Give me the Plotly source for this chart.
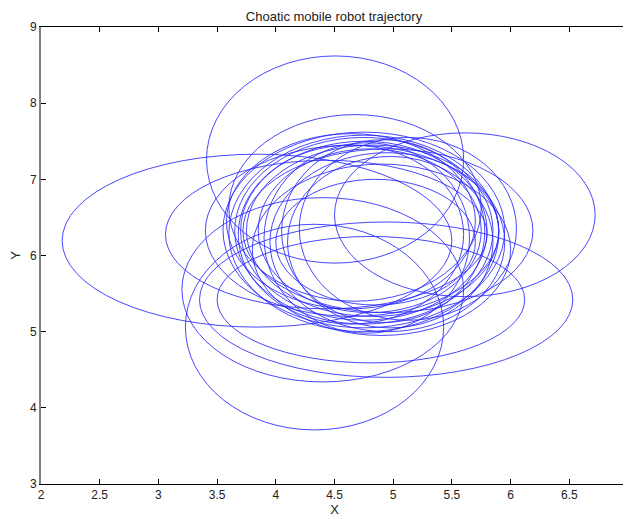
import plotly.graph_objects as go

title = "Choatic mobile robot trajectory"
x_ticks = [2, 2.5, 3, 3.5, 4, 4.5, 5, 5.5, 6, 6.5, 7]
y_ticks = [3, 4, 5, 6, 7, 8, 9]

# Loops of the trajectory (data units)
loop_x0 = [3.55, 3.60, 3.65, 3.70, 3.75, 3.85, 3.95, 3.58, 4.10, 3.80, 4.00, 3.68, 4.20, 3.90,
           3.41, 2.18, 4.50, 3.35, 3.50, 3.23, 3.20, 3.06, 3.40, 3.60, 3.72, 4.05]
loop_x1 = [5.95, 5.90, 5.85, 5.80, 5.90, 5.75, 5.95, 5.70, 5.85, 6.00, 5.70, 5.60, 6.05, 5.65,
           5.60, 5.50, 6.72, 6.53, 6.12, 5.43, 5.60, 5.80, 5.90, 5.75, 6.19, 5.78]
loop_y0 = [5.05, 5.00, 5.10, 5.15, 5.20, 5.25, 5.00, 5.30, 5.05, 4.95, 5.35, 5.10, 5.15, 4.98,
           5.90, 5.06, 5.46, 4.40, 4.59, 3.71, 4.34, 5.30, 5.20, 5.40, 5.25, 5.12]
loop_y1 = [7.62, 7.58, 7.55, 7.50, 7.45, 7.40, 7.35, 7.60, 7.30, 7.20, 7.00, 7.45, 7.55, 7.48,
           8.62, 7.33, 7.61, 6.44, 6.25, 6.41, 6.76, 7.25, 7.45, 7.85, 7.40, 7.52]

fig = go.Figure()
fig.add_trace(go.Scatter(x=[], y=[], mode="lines", showlegend=False))

shapes = []
for a, b, c, d in zip(loop_x0, loop_x1, loop_y0, loop_y1):
    shapes.append(dict(type="circle", xref="x", yref="y", x0=a, x1=b, y0=c, y1=d,
                       line=dict(color="rgba(40,40,255,0.85)", width=1)))

tick_font = dict(family="Liberation Sans, Arial, sans-serif", size=12, color="#222222")

# the last x tick label sits at the very edge of the frame; drawn as an annotation
edge_labels = [dict(x=v, xref="x", y=0, yref="paper", text=f"{v:g}", showarrow=False,
                    xanchor="center", yanchor="top", yshift=-2, font=tick_font)
               for v in x_ticks[-1:]]

# the page body adds an 8px offset; margins compensate for it
W, H = 631, 519
fig.update_layout(
    width=W, height=H,
    margin=dict(l=33, r=11, t=19, b=43, autoexpand=False),
    paper_bgcolor="white", plot_bgcolor="white",
    shapes=shapes,
    annotations=edge_labels,
    showlegend=False,
    font=tick_font,
    title=dict(text=title, x=(334 - 8) / W, xanchor="center", y=1 - 8 / H, yanchor="middle",
               automargin=False,
               font=dict(family="Liberation Sans, Arial, sans-serif", size=13, color="#222222")),
    xaxis=dict(range=[2, 7], tickvals=x_ticks[:-1], ticktext=[f"{v:g}" for v in x_ticks[:-1]],
               automargin=False,
               showgrid=False, zeroline=False, showline=True, linecolor="black", linewidth=1,
               mirror="allticks", ticks="inside", ticklen=5, tickcolor="black",
               title=dict(text="X", standoff=1, font=dict(size=13)),
               tickfont=dict(size=12)),
    yaxis=dict(range=[3, 9], tickvals=y_ticks, ticktext=[f"{v:g}" for v in y_ticks],
               automargin=False,
               showgrid=False, zeroline=False, showline=True, linecolor="#808080", linewidth=2,
               mirror="allticks", ticks="inside", ticklen=5, tickcolor="black",
               title=dict(text="Y", standoff=8, font=dict(size=13)),
               tickfont=dict(size=12)),
)

fig.write_html("out.html")
